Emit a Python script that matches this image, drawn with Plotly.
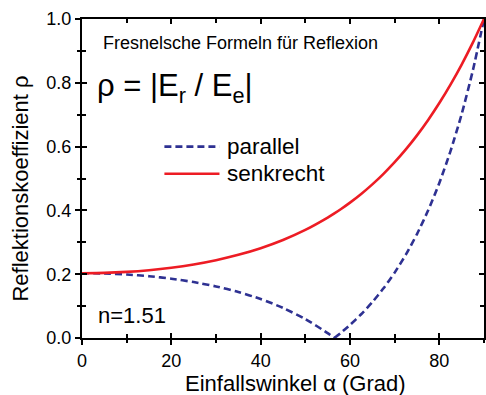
import plotly.graph_objects as go

# incidence angles (degrees)
angles = [0, 5, 10, 15, 20, 25, 30, 35, 40, 45, 50, 55, 56.5, 58, 60, 62.5, 65, 67.5,
          70, 72.5, 75, 77.5, 80, 82.5, 85, 87.5, 90]
# senkrecht (s-polarisation) reflection coefficient
rho_s = [0.2032, 0.2042, 0.2073, 0.2126, 0.2203, 0.2306, 0.2439, 0.2607, 0.2815, 0.3072,
         0.3387, 0.3773, 0.3904, 0.4043, 0.4243, 0.4515, 0.4816, 0.5147, 0.5512, 0.5913,
         0.6353, 0.6837, 0.7366, 0.7944, 0.8573, 0.9258, 1.0]
# parallel (p-polarisation) reflection coefficient
rho_p = [0.2032, 0.2022, 0.1990, 0.1937, 0.1859, 0.1754, 0.1617, 0.1443, 0.1222, 0.0944,
         0.0594, 0.0153, 0.0, 0.0167, 0.0408, 0.0744, 0.1124, 0.1557, 0.2050, 0.2613,
         0.3259, 0.4002, 0.4860, 0.5857, 0.7019, 0.8385, 1.0]
brewster_index = 12

x_ticks = [0, 20, 40, 60, 80]
y_ticks = [0.0, 0.2, 0.4, 0.6, 0.8, 1.0]
y_tick_text = ["0.0", "0.2", "0.4", "0.6", "0.8", "1.0"]

BLUE = "#2E3192"
RED = "#ED1C24"
FONT = "Liberation Sans, Arial, sans-serif"

fig = go.Figure()
fig.add_trace(go.Scatter(x=angles[:brewster_index + 1], y=rho_p[:brewster_index + 1],
                         mode="lines", line=dict(color=BLUE, width=2.6, dash="7px,4px", shape="spline", smoothing=0.6),
                         showlegend=False, hoverinfo="skip"))
fig.add_trace(go.Scatter(x=angles[brewster_index:], y=rho_p[brewster_index:],
                         mode="lines", line=dict(color=BLUE, width=2.6, dash="7px,4px", shape="spline", smoothing=0.6),
                         showlegend=False, hoverinfo="skip"))
fig.add_trace(go.Scatter(x=angles, y=rho_s, mode="lines",
                         line=dict(color=RED, width=2.6, shape="spline", smoothing=0.6),
                         showlegend=False, hoverinfo="skip"))
# invisible trace to activate overlay axes (inside ticks)
fig.add_trace(go.Scatter(x=[0], y=[0], xaxis="x2", yaxis="y2", mode="markers",
                         marker=dict(opacity=0), showlegend=False, hoverinfo="skip"))

common_line = dict(showline=True, linecolor="black", linewidth=2, showgrid=False, zeroline=False)
fig.update_layout(
    width=486, height=395,
    margin=dict(l=82, r=0, t=19, b=57),
    paper_bgcolor="white", plot_bgcolor="white",
    font=dict(family=FONT, color="black"),
    xaxis=dict(range=[0, 90], tickvals=x_ticks, ticks="outside", ticklen=5, tickwidth=1.5,
               tickcolor="black", tickfont=dict(size=18), mirror=False,
               minor=dict(dtick=10, tick0=0, ticks="outside", ticklen=3, tickwidth=1.5, tickcolor="black"),
               **common_line),
    yaxis=dict(range=[0, 1], tickvals=y_ticks, ticktext=y_tick_text, ticks="outside", ticklen=5,
               tickwidth=1.5, tickcolor="black", tickfont=dict(size=18), mirror=False,
               minor=dict(dtick=0.1, tick0=0, ticks="outside", ticklen=3, tickwidth=1.5, tickcolor="black"),
               **common_line),
    xaxis2=dict(range=[0, 90], overlaying="x", anchor="y2", side="bottom", tickvals=x_ticks,
                ticks="inside", ticklen=5, tickwidth=1.5, tickcolor="black", showticklabels=False,
                mirror="ticks",
                minor=dict(dtick=10, tick0=0, ticks="inside", ticklen=4, tickwidth=1.5, tickcolor="black"),
                **common_line),
    yaxis2=dict(range=[0, 1], overlaying="y", anchor="x2", side="left", tickvals=y_ticks,
                ticks="inside", ticklen=5, tickwidth=1.5, tickcolor="black", showticklabels=False,
                mirror="ticks",
                minor=dict(dtick=0.1, tick0=0, ticks="inside", ticklen=4, tickwidth=1.5, tickcolor="black"),
                **common_line),
)

ann = []
ann.append(dict(text="Fresnelsche Formeln für Reflexion", xref="paper", yref="paper",
                x=0.047, y=0.926, xanchor="left", yanchor="middle", showarrow=False,
                font=dict(size=18, family=FONT)))
ann.append(dict(text="ρ = |E<sub>r</sub> / E<sub>e</sub>|", xref="paper", yref="paper",
                x=0.032, y=0.784, xanchor="left", yanchor="middle", showarrow=False,
                font=dict(size=31, family=FONT)))
ann.append(dict(text="n=1.51", xref="paper", yref="paper",
                x=0.035, y=0.069, xanchor="left", yanchor="middle", showarrow=False,
                font=dict(size=22, family=FONT)))
ann.append(dict(text="parallel", xref="paper", yref="paper",
                x=0.355, y=0.600, xanchor="left", yanchor="middle", showarrow=False,
                font=dict(size=22.5, family=FONT)))
ann.append(dict(text="senkrecht", xref="paper", yref="paper",
                x=0.355, y=0.515, xanchor="left", yanchor="middle", showarrow=False,
                font=dict(size=22.5, family=FONT)))
ann.append(dict(text="Reflektionskoeffizient ρ", xref="paper", yref="paper",
                x=-0.153, y=0.47, xanchor="center", yanchor="middle", textangle=-90, showarrow=False,
                font=dict(size=22, family=FONT)))
ann.append(dict(text="Einfallswinkel α (Grad)", xref="paper", yref="paper",
                x=0.531, y=-0.142, xanchor="center", yanchor="middle", showarrow=False,
                font=dict(size=22, family=FONT)))
fig.update_layout(annotations=ann)

fig.add_shape(type="line", xref="paper", yref="paper", x0=0.205, x1=0.342, y0=0.600, y1=0.600,
              line=dict(color=BLUE, width=2.6, dash="7px,4px"))
fig.add_shape(type="line", xref="paper", yref="paper", x0=0.205, x1=0.342, y0=0.515, y1=0.515,
              line=dict(color=RED, width=2.6))

fig.write_html("out.html", config={"displayModeBar": False},
               post_script="document.body.style.margin='0px';")
